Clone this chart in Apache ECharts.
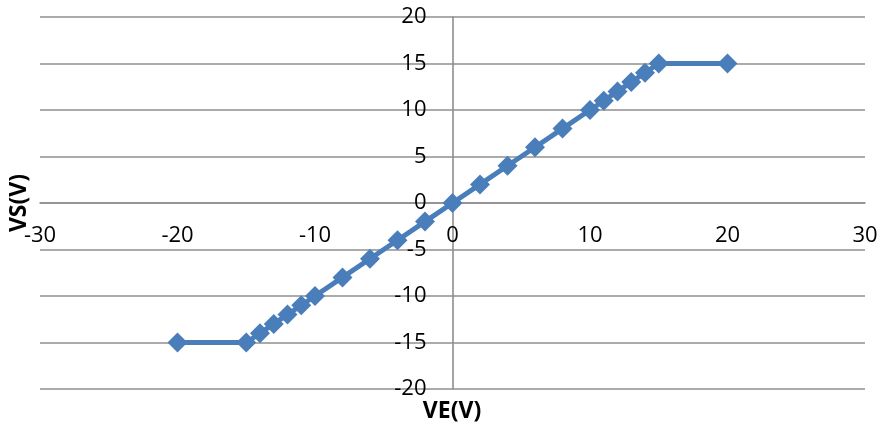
<!DOCTYPE html>
<html>
<head>
<meta charset="utf-8">
<script src="https://cdn.jsdelivr.net/npm/echarts@6/dist/echarts.min.js"></script>
<style>
html,body{margin:0;padding:0;background:#fff;}
#chart{width:882px;height:432px;}
</style>
</head>
<body>
<div id="chart"></div>
<script>
var veValues = [-20, -15, -14, -13, -12, -11, -10, -8, -6, -4, -2, 0, 2, 4, 6, 8, 10, 11, 12, 13, 14, 15, 20];
var vsValues = [-15, -15, -14, -13, -12, -11, -10, -8, -6, -4, -2, 0, 2, 4, 6, 8, 10, 11, 12, 13, 14, 15, 15];
var xAxisName = 'VE(V)';
var yAxisName = 'VS(V)';

var points = veValues.map(function (v, i) { return [v, vsValues[i]]; });
var fontFam = '"Open Sans", "Liberation Sans", sans-serif';

var chart = echarts.init(document.getElementById('chart'), null, {renderer: 'canvas'});
chart.setOption({
  animation: false,
  backgroundColor: '#ffffff',
  grid: {left: 40, right: 17, top: 17, bottom: 43, containLabel: false, outerBoundsMode: 'none'},
  xAxis: {
    type: 'value', min: -30, max: 30, interval: 10,
    position: 'bottom', offset: -186,
    axisLine: {show: true, onZero: false, lineStyle: {color: '#8f8f8f', width: 1.6}},
    axisTick: {show: false},
    splitLine: {show: false},
    axisLabel: {color: '#000', fontSize: 22, fontFamily: fontFam, margin: 22}
  },
  yAxis: {
    type: 'value', min: -20, max: 20, interval: 5,
    position: 'left', offset: -412.5,
    axisLine: {show: true, onZero: false, lineStyle: {color: '#8f8f8f', width: 1.6}},
    axisTick: {show: false},
    splitLine: {show: true, lineStyle: {color: '#8f8f8f', width: 1.6}},
    axisLabel: {color: '#000', fontSize: 22, fontFamily: fontFam, margin: 26}
  },
  graphic: [
    {type: 'text', x: 19, y: 203, rotation: Math.PI / 2,
     style: {text: yAxisName, font: 'bold 23px ' + fontFam, fill: '#000', align: 'center', verticalAlign: 'middle'}},
    {type: 'text', x: 452, y: 411,
     style: {text: xAxisName, font: 'bold 23px ' + fontFam, fill: '#000', align: 'center', verticalAlign: 'middle'}}
  ],
  series: [{
    type: 'line',
    data: points,
    symbol: 'diamond',
    symbolSize: 20,
    showAllSymbol: true,
    lineStyle: {color: '#4A7EBB', width: 5},
    itemStyle: {color: '#4A7EBB'}
  }]
});
</script>
</body>
</html>
